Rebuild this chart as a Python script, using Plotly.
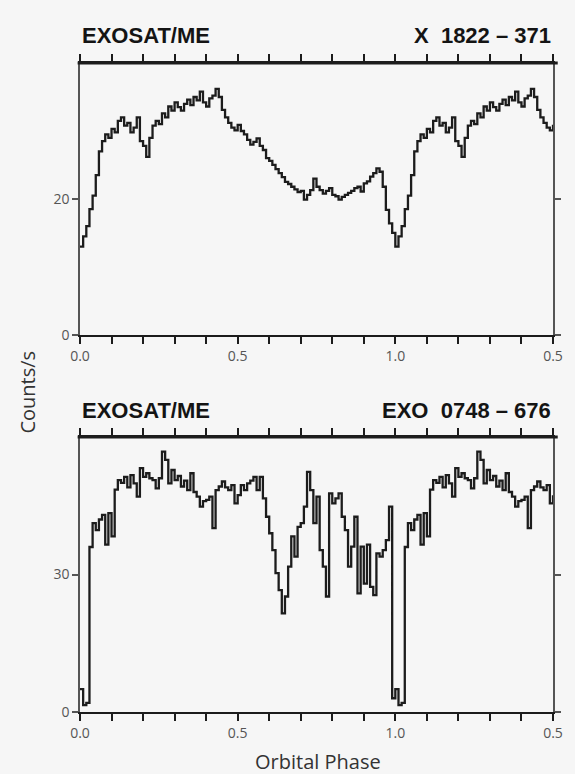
import numpy as np
import plotly.graph_objects as go
from plotly.subplots import make_subplots

# Phase bins (0.01 wide) over one orbital cycle
phase = np.round(np.arange(0.0, 1.0, 0.01), 2)

# X 1822-371 count rate (counts/s), phase 0.00 .. 0.99
x1822_rate = [
    13.0, 14.5, 16.0, 18.5, 20.5, 23.5, 27.0, 28.5, 29.5, 29.0,
    30.3, 29.8, 31.5, 32.0, 30.8, 31.2, 29.8, 30.5, 32.0, 28.5,
    27.8, 26.2, 29.0, 30.8, 31.5, 31.0, 32.6, 32.0, 33.6, 33.0,
    34.2, 33.5, 33.0, 34.0, 34.6, 33.8, 35.0, 34.5, 35.8, 34.2,
    33.6, 34.8, 35.2, 36.2, 35.0, 33.1, 32.0, 31.2, 30.5, 30.1,
    30.9, 30.0, 29.5, 28.7, 28.0, 28.4, 28.9, 27.8, 27.2, 26.0,
    25.6, 25.0, 24.4, 23.8, 23.2, 22.5, 22.2, 21.8, 21.4, 21.0,
    21.2, 19.9, 20.6, 21.3, 23.0, 21.8, 21.3, 20.8, 21.2, 21.6,
    20.6, 20.4, 19.9, 20.3, 20.6, 20.9, 21.2, 21.6, 21.8, 21.1,
    22.3, 22.6, 23.3, 23.8, 24.5, 24.0, 21.8, 18.4, 16.4, 15.0,
]

# EXO 0748-676 count rate (counts/s), phase 0.00 .. 0.99
exo0748_rate = [
    5.0, 1.5, 2.0, 36.0, 41.2, 39.7, 42.0, 43.0, 36.5, 43.4,
    38.3, 48.5, 50.6, 50.0, 51.3, 49.0, 51.7, 49.9, 47.0, 53.2,
    51.3, 52.1, 51.0, 50.6, 48.8, 51.0, 56.8, 55.0, 49.9, 52.8,
    50.6, 51.5, 49.2, 50.5, 48.4, 52.1, 48.0, 47.0, 44.8, 46.0,
    46.3, 47.0, 40.1, 48.4, 49.2, 50.3, 49.0, 48.4, 49.5, 45.5,
    47.3, 49.5, 48.4, 49.9, 50.5, 51.3, 48.4, 51.3, 46.6, 42.6,
    39.0, 35.3, 30.3, 26.6, 21.5, 25.2, 31.7, 38.3, 33.9, 40.4,
    41.2, 44.8, 52.4, 48.4, 41.2, 47.0, 35.3, 31.7, 25.2, 47.7,
    45.5, 46.6, 47.7, 42.6, 39.7, 31.7, 36.1, 42.6, 25.9, 36.1,
    28.0, 36.5, 27.3, 25.5, 34.6, 33.9, 35.3, 37.5, 44.8, 3.0,
]

x_tickvals = np.round(np.arange(0.0, 1.51, 0.1), 1)
x_ticklabels = {0.0: "0.0", 0.5: "0.5", 1.0: "1.0", 1.5: "0.5"}
top_yticks = [0, 20]
bot_yticks = [0, 30]


def folded(rate):
    r = np.asarray(rate)
    x = np.concatenate([phase, phase[:51] + 1.0])
    y = np.concatenate([r, r[:51]])
    return x, y


fig = make_subplots(rows=2, cols=1, vertical_spacing=0.157)

ink = "#1c1c1c"
for row, rate in ((1, x1822_rate), (2, exo0748_rate)):
    x, y = folded(rate)
    fig.add_trace(go.Scatter(x=x, y=y, mode="lines", line_shape="hv",
                             line=dict(color=ink, width=2.3), showlegend=False,
                             hoverinfo="skip"), row=row, col=1)

paper = "#f6f6f6"
tickfont = dict(family="Open Sans, Liberation Sans, sans-serif", size=14, color="#555")

for row, yr, yt in ((1, [0, 40], top_yticks), (2, [0, 60], bot_yticks)):
    fig.update_xaxes(range=[0, 1.5], tickvals=list(x_tickvals),
                     ticktext=[x_ticklabels.get(float(v), "") for v in x_tickvals],
                     ticks="outside", ticklen=7, tickwidth=2, tickcolor=ink,
                     showline=True, linecolor=ink, linewidth=2, mirror="ticks",
                     showgrid=False, zeroline=False, tickfont=tickfont,
                     row=row, col=1)
    fig.update_yaxes(range=yr, tickvals=yt, ticks="outside", ticklen=6,
                     tickwidth=1.5, tickcolor="#555", showline=True,
                     linecolor="#555", linewidth=1.5, mirror="ticks",
                     showgrid=False, zeroline=False, tickfont=tickfont,
                     row=row, col=1)

# heavier top border on each panel
for yref in ("y domain", "y2 domain"):
    xref = "x domain" if yref == "y domain" else "x2 domain"
    fig.add_shape(type="line", xref=xref, yref=yref, x0=-0.005, x1=1.01,
                  y0=1, y1=1, line=dict(color=ink, width=3))

title_font = dict(family="Liberation Sans, Arial, sans-serif", size=22,
                  color="#141414", weight="bold")
ann = [
    dict(text="EXOSAT/ME", x=0.0, y=1.043, xanchor="left"),
    dict(text="X  1822 – 371", x=1.0, y=1.043, xanchor="right"),
    dict(text="EXOSAT/ME", x=0.0, y=0.464, xanchor="left"),
    dict(text="EXO  0748 – 676", x=1.0, y=0.464, xanchor="right"),
]
for a in ann:
    fig.add_annotation(xref="paper", yref="paper", yanchor="middle",
                       showarrow=False, font=title_font, **a)

label_font = dict(family="Open Sans, Liberation Sans, sans-serif", size=20, color="#333")
fig.add_annotation(text="Orbital Phase", xref="paper", yref="paper", x=0.503,
                   y=-0.077, xanchor="center", yanchor="middle",
                   showarrow=False, font=label_font)
fig.add_annotation(text="Counts/s", xref="paper", yref="paper", x=-0.111,
                   y=0.493, xanchor="center", yanchor="middle", textangle=-90,
                   showarrow=False, font=label_font)

fig.update_layout(width=575, height=774,
                  margin=dict(l=80, r=18, t=63, b=62),
                  paper_bgcolor=paper, plot_bgcolor=paper)
fig.update_yaxes(domain=[0.581, 1.0], row=1, col=1)
fig.update_yaxes(domain=[0.0, 0.4237], row=2, col=1)

fig.write_html("out.html")
